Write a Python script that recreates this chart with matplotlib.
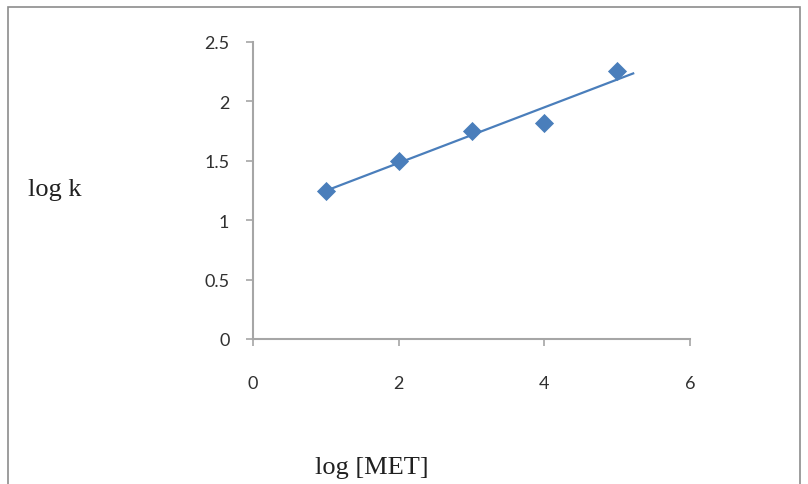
import numpy as np
import matplotlib.pyplot as plt
from matplotlib.patches import Rectangle

# Data
log_met = [1, 2, 3, 4, 5]
log_k = [1.25, 1.5, 1.75, 1.82, 2.26]
x_ticks = [0, 2, 4, 6]
y_ticks = [0, 0.5, 1, 1.5, 2, 2.5]

blue = '#4a7ebb'
grey = '#a6a6a6'

fig = plt.figure(figsize=(8.08, 4.85), dpi=100)
W, H = 808, 485

# outer chart frame (bottom edge cut off in the original)
fig.patches.append(Rectangle((8 / W, -0.02), 792 / W, (H - 8) / H + 0.02,
                             transform=fig.transFigure, fill=False,
                             edgecolor='#8c8c8c', linewidth=1.2))

ax = fig.add_axes([253 / W, (H - 340) / H, (690 - 253) / W, (340 - 43) / H])

# linear trendline, extended slightly past the last point
slope, intercept = np.polyfit(log_met, log_k, 1)
xs = np.array([log_met[0], log_met[-1] + 0.22])
ax.plot(xs, slope * xs + intercept, color=blue, linewidth=1.6, zorder=2)
ax.scatter(log_met, log_k, marker='D', s=95, color=blue, zorder=3,
           linewidths=0)

ax.set_xlim(0, 6)
ax.set_ylim(0, 2.5)
ax.set_xticks(x_ticks)
ax.set_yticks(y_ticks)
ax.set_xticklabels([str(t) for t in x_ticks])
ax.set_yticklabels(['0', '0.5', '1', '1.5', '2', '2.5'])

for s in ['top', 'right']:
    ax.spines[s].set_visible(False)
for s in ['left', 'bottom']:
    ax.spines[s].set_color(grey)
    ax.spines[s].set_linewidth(1.5)

ax.tick_params(axis='both', colors=grey, length=5, width=1.2,
               labelcolor='#303030', labelsize=13)
ax.tick_params(axis='y', pad=12)
ax.tick_params(axis='x', pad=21)
for lab in ax.get_xticklabels() + ax.get_yticklabels():
    lab.set_fontfamily('Lato')

fig.text(55 / W, 1 - 190 / H, 'log k', family='Liberation Serif',
         fontsize=19, ha='center', va='center', color='#202020')
fig.text(372 / W, 1 - 468 / H, 'log [MET]', family='Liberation Serif',
         fontsize=19, ha='center', va='center', color='#202020')

fig.savefig('out.png', dpi=100)
